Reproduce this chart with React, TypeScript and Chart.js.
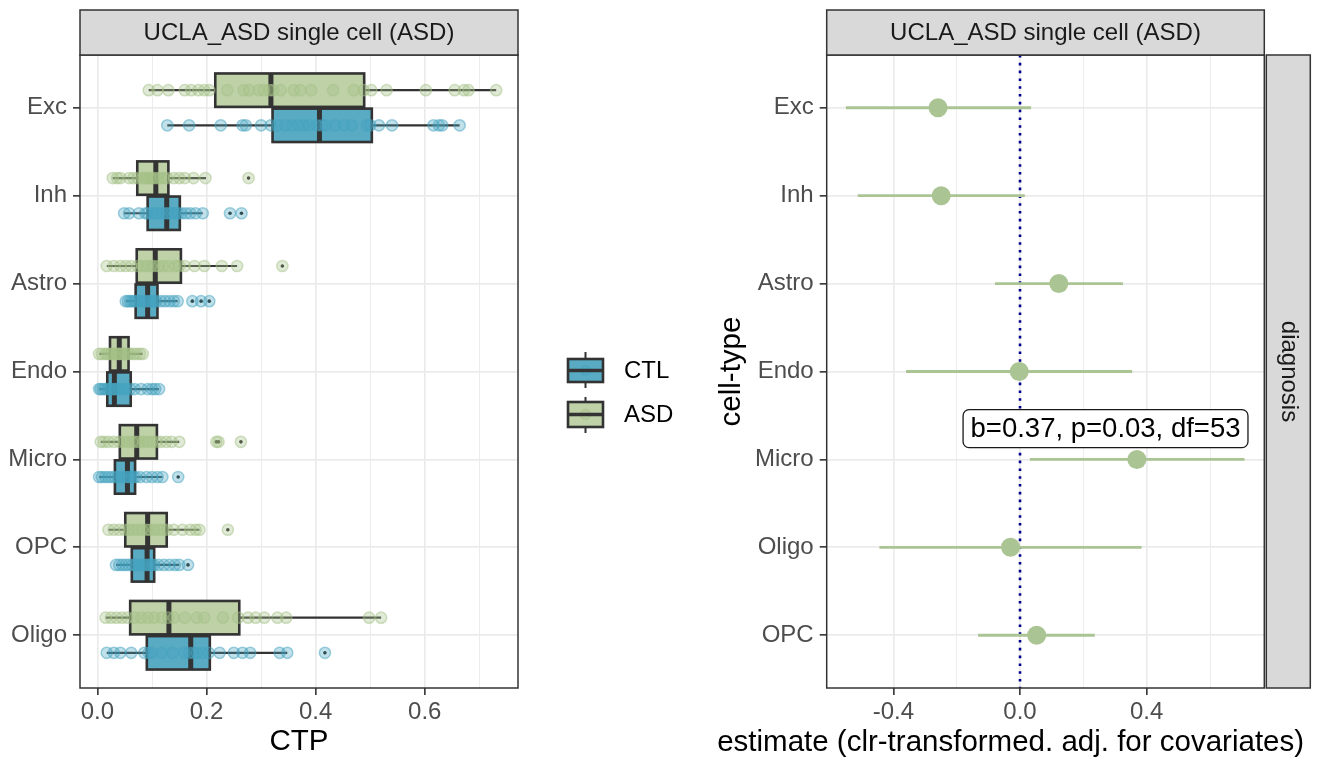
import React, { useEffect, useRef } from 'react';
import { Chart, registerables } from 'chart.js';

Chart.register(...registerables);

const FONT = '"Liberation Sans", Arial, Helvetica, sans-serif';
Chart.defaults.font.family = FONT;

// ---------------- Left panel data ----------------
const CELL_TYPES_LEFT = ['Exc', 'Inh', 'Astro', 'Endo', 'Micro', 'OPC', 'Oligo'];
const GROUPS = ['CTL', 'ASD'];
// [lower whisker, Q1, median, Q3, upper whisker]
const ASD_BOX = [
  [0.094, 0.216, 0.318, 0.489, 0.731],
  [0.028, 0.073, 0.107, 0.130, 0.199],
  [0.017, 0.072, 0.106, 0.153, 0.256],
  [0.003, 0.023, 0.040, 0.057, 0.083],
  [0.006, 0.041, 0.072, 0.109, 0.150],
  [0.020, 0.051, 0.092, 0.127, 0.187],
  [0.015, 0.060, 0.131, 0.260, 0.520],
];
const CTL_BOX = [
  [0.128, 0.321, 0.407, 0.503, 0.664],
  [0.049, 0.092, 0.127, 0.151, 0.193],
  [0.052, 0.070, 0.092, 0.110, 0.147],
  [0.003, 0.018, 0.031, 0.061, 0.113],
  [0.003, 0.032, 0.055, 0.069, 0.119],
  [0.034, 0.063, 0.091, 0.104, 0.150],
  [0.017, 0.0905, 0.171, 0.206, 0.348],
];
const ASD_OUTLIERS = [[], [0.277], [0.339], [], [0.218, 0.222, 0.263], [0.239], []];
const CTL_OUTLIERS = [[], [0.243, 0.264], [0.174, 0.19, 0.205], [], [0.148], [0.166], [0.417]];

const ASD_POINTS = [
  [0.094, 0.11, 0.13, 0.16, 0.172, 0.185, 0.196, 0.205, 0.238, 0.268, 0.278, 0.296, 0.305, 0.315, 0.322, 0.336, 0.36, 0.372, 0.392, 0.432, 0.47, 0.488, 0.502, 0.53, 0.602, 0.655, 0.672, 0.68, 0.731],
  [0.028, 0.036, 0.042, 0.058, 0.066, 0.074, 0.082, 0.088, 0.09, 0.096, 0.1, 0.104, 0.11, 0.116, 0.122, 0.128, 0.14, 0.15, 0.16, 0.176, 0.198, 0.277],
  [0.017, 0.03, 0.042, 0.052, 0.062, 0.074, 0.082, 0.09, 0.098, 0.104, 0.112, 0.12, 0.13, 0.142, 0.15, 0.16, 0.178, 0.196, 0.228, 0.256, 0.339],
  [0.003, 0.008, 0.014, 0.018, 0.022, 0.026, 0.03, 0.034, 0.038, 0.04, 0.044, 0.048, 0.052, 0.056, 0.06, 0.066, 0.072, 0.078, 0.083],
  [0.006, 0.012, 0.02, 0.03, 0.04, 0.048, 0.056, 0.064, 0.07, 0.076, 0.084, 0.092, 0.1, 0.108, 0.116, 0.126, 0.136, 0.15, 0.218, 0.222, 0.263],
  [0.02, 0.03, 0.04, 0.05, 0.058, 0.066, 0.074, 0.082, 0.09, 0.096, 0.104, 0.112, 0.12, 0.128, 0.14, 0.156, 0.17, 0.18, 0.187, 0.239],
  [0.015, 0.025, 0.035, 0.045, 0.055, 0.068, 0.08, 0.092, 0.104, 0.118, 0.13, 0.14, 0.16, 0.182, 0.196, 0.23, 0.258, 0.276, 0.29, 0.306, 0.33, 0.346, 0.498, 0.52],
];
const CTL_POINTS = [
  [0.128, 0.168, 0.226, 0.266, 0.272, 0.3, 0.318, 0.33, 0.345, 0.356, 0.368, 0.378, 0.388, 0.402, 0.412, 0.418, 0.436, 0.452, 0.466, 0.494, 0.5, 0.516, 0.54, 0.616, 0.626, 0.632, 0.664],
  [0.049, 0.058, 0.076, 0.088, 0.092, 0.1, 0.108, 0.114, 0.12, 0.126, 0.13, 0.136, 0.142, 0.148, 0.154, 0.162, 0.17, 0.18, 0.193, 0.243, 0.264],
  [0.052, 0.056, 0.06, 0.064, 0.068, 0.072, 0.078, 0.084, 0.088, 0.092, 0.096, 0.1, 0.104, 0.108, 0.116, 0.124, 0.132, 0.14, 0.147, 0.174, 0.19, 0.205],
  [0.003, 0.006, 0.01, 0.014, 0.018, 0.022, 0.026, 0.03, 0.032, 0.036, 0.04, 0.046, 0.052, 0.06, 0.068, 0.08, 0.092, 0.1, 0.106, 0.113],
  [0.003, 0.008, 0.014, 0.02, 0.026, 0.032, 0.038, 0.044, 0.05, 0.054, 0.058, 0.062, 0.066, 0.07, 0.078, 0.09, 0.1, 0.11, 0.119, 0.148],
  [0.034, 0.04, 0.046, 0.052, 0.058, 0.064, 0.07, 0.076, 0.082, 0.088, 0.092, 0.096, 0.1, 0.104, 0.112, 0.122, 0.132, 0.142, 0.15, 0.166],
  [0.017, 0.03, 0.042, 0.062, 0.086, 0.094, 0.1, 0.118, 0.138, 0.16, 0.168, 0.176, 0.182, 0.192, 0.204, 0.224, 0.25, 0.266, 0.28, 0.334, 0.348, 0.417],
];
const CTP_TICKS = [0, 0.1, 0.2, 0.3, 0.4, 0.5, 0.6, 0.7];
const CTP_LABELS = ['0.0', '', '0.2', '', '0.4', '', '0.6', ''];
const CTP_MIN = -0.032;
const CTP_MAX = 0.771;

// ---------------- Right panel data ----------------
const CELL_TYPES_RIGHT = ['Exc', 'Inh', 'Astro', 'Endo', 'Micro', 'Oligo', 'OPC'];
const ESTIMATE = [-0.259, -0.249, 0.1225, -0.0025, 0.369, -0.03, 0.0525];
const CI_LOW = [-0.55, -0.5125, -0.079, -0.36, 0.031, -0.444, -0.1325];
const CI_HIGH = [0.035, 0.015, 0.325, 0.354, 0.709, 0.384, 0.236];
const EST_TICKS = [-0.4, -0.2, 0, 0.2, 0.4, 0.6];
const EST_LABELS = ['-0.4', '', '0.0', '', '0.4', ''];
const EST_MIN = -0.6105;
const EST_MAX = 0.7714;
const ANNOTATION = 'b=0.37, p=0.03, df=53';
const ANNOTATION_X = 0.27;
const ANNOTATION_Y = 3.65;

const STRIP_TITLE = 'UCLA_ASD single cell (ASD)';
const FACET_RIGHT = 'diagnosis';
const X_TITLE_LEFT = 'CTP';
const X_TITLE_RIGHT = 'estimate (clr-transformed. adj. for covariates)';
const Y_TITLE_RIGHT = 'cell-type';

// ---------------- Styles ----------------
const SMALL = 24;
const BIG = 29.5;
const GRID = '#EBEBEB';
const DARK = '#333333';
const AXIS_TEXT = '#4D4D4D';
const STRIP_FILL = '#D9D9D9';
const CTL_FILL = '#58ABC3';
const ASD_FILL = '#BED1A7';
const CTL_PT_FILL = 'rgba(70,163,192,0.34)';
const CTL_PT_LINE = 'rgba(70,163,192,0.5)';
const ASD_PT_FILL = 'rgba(165,193,136,0.34)';
const ASD_PT_LINE = 'rgba(165,193,136,0.5)';
const EST_GREEN = '#ABC494';
const DODGE = 0.2;
const BOX_HALF = 0.19;

function drawStrip(ctx: CanvasRenderingContext2D, x0: number, y0: number, x1: number, y1: number, text: string, vertical: boolean) {
  ctx.save();
  ctx.fillStyle = STRIP_FILL;
  ctx.fillRect(x0, y0, x1 - x0, y1 - y0);
  ctx.strokeStyle = DARK;
  ctx.lineWidth = 1.5;
  ctx.strokeRect(x0, y0, x1 - x0, y1 - y0);
  ctx.fillStyle = '#1A1A1A';
  ctx.font = `${SMALL}px ${FONT}`;
  ctx.textAlign = 'center';
  ctx.textBaseline = 'middle';
  if (vertical) {
    ctx.translate((x0 + x1) / 2, (y0 + y1) / 2);
    ctx.rotate(Math.PI / 2);
    ctx.fillText(text, 0, 0);
  } else {
    ctx.fillText(text, (x0 + x1) / 2, (y0 + y1) / 2 + 1);
  }
  ctx.restore();
}

function panelBorder(ctx: CanvasRenderingContext2D, a: any) {
  ctx.save();
  ctx.strokeStyle = DARK;
  ctx.lineWidth = 1.5;
  ctx.strokeRect(a.left, a.top, a.right - a.left, a.bottom - a.top);
  ctx.restore();
}

const boxPlugin = {
  id: 'boxes',
  beforeDatasetsDraw(chart: any) {
    const { ctx } = chart;
    const xs = chart.scales.x;
    const ys = chart.scales.y;
    const groups = [
      { box: ASD_BOX, off: -DODGE, fill: ASD_FILL },
      { box: CTL_BOX, off: DODGE, fill: CTL_FILL },
    ];
    ctx.save();
    CELL_TYPES_LEFT.forEach((_, i) => {
      groups.forEach((g) => {
        const [lo, q1, med, q3, hi] = g.box[i];
        const yc = ys.getPixelForValue(i + g.off);
        const yt = ys.getPixelForValue(i + g.off - BOX_HALF);
        const yb = ys.getPixelForValue(i + g.off + BOX_HALF);
        ctx.strokeStyle = DARK;
        ctx.lineWidth = 2.2;
        ctx.beginPath();
        ctx.moveTo(xs.getPixelForValue(lo), yc);
        ctx.lineTo(xs.getPixelForValue(q1), yc);
        ctx.moveTo(xs.getPixelForValue(q3), yc);
        ctx.lineTo(xs.getPixelForValue(hi), yc);
        ctx.stroke();
        const x1 = xs.getPixelForValue(q1);
        const x3 = xs.getPixelForValue(q3);
        ctx.fillStyle = g.fill;
        ctx.fillRect(x1, yt, x3 - x1, yb - yt);
        ctx.lineWidth = 2.6;
        ctx.strokeRect(x1, yt, x3 - x1, yb - yt);
        ctx.lineWidth = 5;
        ctx.beginPath();
        const xm = xs.getPixelForValue(med);
        ctx.moveTo(xm, yt);
        ctx.lineTo(xm, yb);
        ctx.stroke();
      });
    });
    ctx.restore();
  },
  afterDraw(chart: any) {
    const { ctx, chartArea: a } = chart;
    panelBorder(ctx, a);
    drawStrip(ctx, a.left, 10, a.right, a.top, STRIP_TITLE, false);
    // legend
    const keys = [
      { label: GROUPS[0], fill: CTL_FILL, pf: CTL_PT_FILL, pl: CTL_PT_LINE, top: 359, bot: 382, wt: 352, wb: 388 },
      { label: GROUPS[1], fill: ASD_FILL, pf: ASD_PT_FILL, pl: ASD_PT_LINE, top: 402, bot: 427, wt: 397, wb: 433 },
    ];
    ctx.save();
    keys.forEach((k) => {
      const x0 = 568, x1 = 603, xc = (x0 + x1) / 2, ym = (k.top + k.bot) / 2;
      ctx.strokeStyle = DARK;
      ctx.lineWidth = 2;
      ctx.beginPath();
      ctx.moveTo(xc, k.wt); ctx.lineTo(xc, k.top);
      ctx.moveTo(xc, k.bot); ctx.lineTo(xc, k.wb);
      ctx.stroke();
      ctx.fillStyle = k.fill;
      ctx.fillRect(x0, k.top, x1 - x0, k.bot - k.top);
      ctx.lineWidth = 2.6;
      ctx.strokeRect(x0, k.top, x1 - x0, k.bot - k.top);
      ctx.beginPath();
      ctx.arc(xc, ym, 5, 0, Math.PI * 2);
      ctx.fillStyle = k.pf;
      ctx.fill();
      ctx.lineWidth = 1.5;
      ctx.strokeStyle = k.pl;
      ctx.stroke();
      ctx.strokeStyle = DARK;
      ctx.lineWidth = 3.5;
      ctx.beginPath();
      ctx.moveTo(x0, ym); ctx.lineTo(x1, ym);
      ctx.stroke();
      ctx.fillStyle = '#000';
      ctx.font = `${SMALL}px ${FONT}`;
      ctx.textAlign = 'left';
      ctx.textBaseline = 'middle';
      ctx.fillText(k.label, 624, ym + 1);
    });
    ctx.restore();
  },
};

const forestPlugin = {
  id: 'forestExtras',
  afterDatasetsDraw(chart: any) {
    const { ctx } = chart;
    const xs = chart.scales.x;
    const ys = chart.scales.y;
    const px = xs.getPixelForValue(ANNOTATION_X);
    const py = ys.getPixelForValue(ANNOTATION_Y);
    ctx.save();
    ctx.font = `${27.5}px ${FONT}`;
    const w = ctx.measureText(ANNOTATION).width + 15;
    const h = 38;
    const x0 = px - w / 2, y0 = py - h / 2, r = 6;
    ctx.beginPath();
    ctx.moveTo(x0 + r, y0);
    ctx.arcTo(x0 + w, y0, x0 + w, y0 + h, r);
    ctx.arcTo(x0 + w, y0 + h, x0, y0 + h, r);
    ctx.arcTo(x0, y0 + h, x0, y0, r);
    ctx.arcTo(x0, y0, x0 + w, y0, r);
    ctx.closePath();
    ctx.fillStyle = '#FFFFFF';
    ctx.fill();
    ctx.strokeStyle = '#1A1A1A';
    ctx.lineWidth = 1.3;
    ctx.stroke();
    ctx.fillStyle = '#000';
    ctx.textAlign = 'center';
    ctx.textBaseline = 'middle';
    ctx.fillText(ANNOTATION, px, py + 1);
    ctx.restore();
  },
  afterDraw(chart: any) {
    const { ctx, chartArea: a } = chart;
    panelBorder(ctx, a);
    drawStrip(ctx, a.left, 10, a.right, a.top, STRIP_TITLE, false);
    drawStrip(ctx, a.right + 2, a.top, a.right + 46, a.bottom, FACET_RIGHT, true);
    ctx.save();
    ctx.fillStyle = '#000';
    ctx.font = `${BIG}px ${FONT}`;
    ctx.textAlign = 'center';
    ctx.textBaseline = 'middle';
    ctx.fillText(X_TITLE_RIGHT, 310.6, 743);
    ctx.restore();
  },
};

function catAxis(labels: string[], width: number, title?: string) {
  return {
    type: 'linear',
    min: -0.6,
    max: 6.6,
    reverse: true,
    afterBuildTicks: (s: any) => {
      s.ticks = labels.map((_, i) => ({ value: i }));
    },
    afterFit: (s: any) => {
      s.width = width;
    },
    ticks: {
      callback: (v: any) => labels[v] ?? '',
      color: AXIS_TEXT,
      font: { size: SMALL },
      padding: 6,
      autoSkip: false,
    },
    grid: { color: GRID, lineWidth: 1.7, tickColor: DARK, tickWidth: 1.6, tickLength: 7 },
    border: { display: false },
    title: title
      ? { display: true, text: title, color: '#000', font: { size: BIG }, padding: { top: 14, bottom: 0 } }
      : { display: false },
  };
}

function valueAxis(min: number, max: number, ticks: number[], labels: string[], title?: string) {
  return {
    type: 'linear',
    min,
    max,
    afterBuildTicks: (s: any) => {
      s.ticks = ticks.map((v) => ({ value: v }));
    },
    afterFit: (s: any) => {
      s.height = 72;
    },
    ticks: {
      callback: (_v: any, i: number) => labels[i] ?? '',
      color: AXIS_TEXT,
      font: { size: SMALL },
      padding: 3,
      autoSkip: false,
      maxRotation: 0,
    },
    grid: {
      color: GRID,
      lineWidth: (c: any) => (labels[c.index] ? 1.7 : 0.9),
      tickColor: (c: any) => (labels[c.index] ? DARK : 'rgba(0,0,0,0)'),
      tickWidth: 1.6,
      tickLength: 7,
    },
    border: { display: false },
    title: title
      ? { display: true, text: title, color: '#000', font: { size: BIG }, padding: { top: 0, bottom: 0 } }
      : { display: false },
  };
}

function leftConfig(): any {
  const pts = (arr: number[][], off: number) =>
    arr.flatMap((vals, i) => vals.map((v) => ({ x: v, y: i + off })));
  const outs = [
    ...ASD_OUTLIERS.flatMap((vals, i) => vals.map((v) => ({ x: v, y: i - DODGE }))),
    ...CTL_OUTLIERS.flatMap((vals, i) => vals.map((v) => ({ x: v, y: i + DODGE }))),
  ];
  return {
    type: 'scatter',
    data: {
      datasets: [
        { label: 'ASD', data: pts(ASD_POINTS, -DODGE), backgroundColor: ASD_PT_FILL, borderColor: ASD_PT_LINE, borderWidth: 1.5, pointRadius: 5.6 },
        { label: 'CTL', data: pts(CTL_POINTS, DODGE), backgroundColor: CTL_PT_FILL, borderColor: CTL_PT_LINE, borderWidth: 1.5, pointRadius: 5.6 },
        { label: 'outliers', data: outs, backgroundColor: '#222', borderWidth: 0, pointRadius: 1.8 },
      ],
    },
    options: {
      responsive: false,
      animation: false,
      layout: { padding: { top: 55, right: 182, bottom: 0, left: 0 } },
      plugins: { legend: { display: false }, tooltip: { enabled: false } },
      scales: {
        x: valueAxis(CTP_MIN, CTP_MAX, CTP_TICKS, CTP_LABELS, X_TITLE_LEFT),
        y: catAxis(CELL_TYPES_LEFT, 80),
      },
    },
    plugins: [boxPlugin],
  };
}

function rightConfig(): any {
  const ciSets = CELL_TYPES_RIGHT.map((_, i) => ({
    label: 'ci',
    data: [
      { x: CI_LOW[i], y: i },
      { x: CI_HIGH[i], y: i },
    ],
    showLine: true,
    borderColor: EST_GREEN,
    borderWidth: 2.8,
    pointRadius: 0,
  }));
  return {
    type: 'scatter',
    data: {
      datasets: [
        {
          label: 'estimate',
          data: ESTIMATE.map((v, i) => ({ x: v, y: i })),
          backgroundColor: EST_GREEN,
          borderWidth: 0,
          pointRadius: 9.5,
        },
        ...ciSets,
        {
          label: 'zero',
          data: [
            { x: 0, y: -0.6 },
            { x: 0, y: 6.6 },
          ],
          showLine: true,
          borderColor: '#00008B',
          borderWidth: 2.6,
          borderDash: [2.6, 5.2],
          pointRadius: 0,
        },
      ],
    },
    options: {
      responsive: false,
      animation: false,
      layout: { padding: { top: 55, right: 57.7, bottom: 0, left: 0 } },
      plugins: { legend: { display: false }, tooltip: { enabled: false } },
      scales: {
        x: valueAxis(EST_MIN, EST_MAX, EST_TICKS, EST_LABELS),
        y: catAxis(CELL_TYPES_RIGHT, 126.7, Y_TITLE_RIGHT),
      },
    },
    plugins: [forestPlugin],
  };
}

export default function App() {
  const leftRef = useRef<HTMLCanvasElement>(null);
  const rightRef = useRef<HTMLCanvasElement>(null);
  useEffect(() => {
    const left = new Chart(leftRef.current as HTMLCanvasElement, leftConfig());
    const right = new Chart(rightRef.current as HTMLCanvasElement, rightConfig());
    return () => {
      left.destroy();
      right.destroy();
    };
  }, []);
  return (
    <div style={{ position: 'fixed', left: 0, top: 0, width: 1322, height: 760, background: '#fff', overflow: 'hidden' }}>
      <canvas ref={leftRef} width={700} height={760} style={{ position: 'absolute', left: 0, top: 0, width: 700, height: 760 }} />
      <canvas ref={rightRef} width={622} height={760} style={{ position: 'absolute', left: 700, top: 0, width: 622, height: 760 }} />
    </div>
  );
}
